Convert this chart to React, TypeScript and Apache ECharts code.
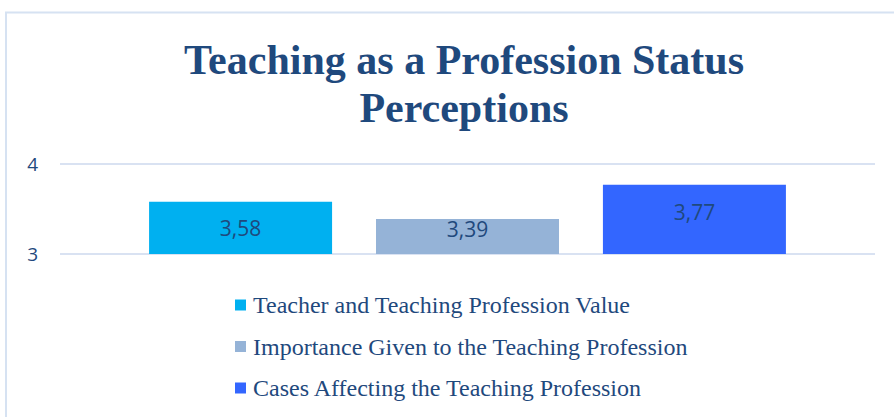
import React, { useEffect, useRef } from "react";
import * as echarts from "echarts";

const titleText = "Teaching as a Profession Status\nPerceptions";
const categories = [""];
const seriesNames = [
  "Teacher and Teaching Profession Value",
  "Importance Given to the Teaching Profession",
  "Cases Affecting the Teaching Profession",
];
const seriesValues = [3.58, 3.39, 3.77];
const seriesColors = ["#00B0F0", "#95B3D7", "#3366FF"];
const labelOffsets = [0, -7, -7];
const yMin = 3;
const yMax = 4;
const yInterval = 1;

const textBlue = "#1F497D";

export default function App() {
  const ref = useRef<HTMLDivElement>(null);
  useEffect(() => {
    document.body.style.margin = "0";
    if (!ref.current) return;
    const chart = echarts.init(ref.current, null, { renderer: "svg" });
    chart.setOption({
      animation: false,
      backgroundColor: "#ffffff",
      title: {
        text: titleText,
        left: 459,
        textAlign: "center",
        top: 31,
        textStyle: {
          fontFamily: "Liberation Serif",
          fontWeight: "bold",
          fontSize: 42,
          lineHeight: 48,
          color: textBlue,
        },
      },
      graphic: [
        {
          type: "rect",
          shape: { x: 6, y: 12.5, width: 920, height: 440 },
          style: { fill: "none", stroke: "#D6E2F2", lineWidth: 2 },
          silent: true,
          z: -1,
        },
      ],
      legend: {
        orient: "vertical",
        left: 235,
        top: 293,
        padding: 0,
        icon: "rect",
        itemWidth: 11,
        itemHeight: 11,
        itemGap: 17.5,
        textStyle: {
          fontFamily: "Liberation Serif",
          fontSize: 24,
          lineHeight: 24,
          color: textBlue,
          padding: [0, 0, 0, 2],
        },
        data: seriesNames,
      },
      grid: { left: 60, right: 19, top: 164, bottom: 163 },
      xAxis: {
        type: "category",
        data: categories,
        axisLine: { show: false },
        axisTick: { show: false },
        axisLabel: { show: false },
      },
      yAxis: {
        type: "value",
        min: yMin,
        max: yMax,
        interval: yInterval,
        axisLabel: {
          margin: 22,
          fontFamily: "Open Sans",
          fontSize: 19,
          color: textBlue,
        },
        splitLine: { lineStyle: { color: "#D9E2F2", width: 2 } },
        axisLine: { show: false },
        axisTick: { show: false },
      },
      series: seriesNames.map((name, i) => ({
        name,
        type: "bar",
        data: [seriesValues[i]],
        barWidth: 183,
        barGap: "24%",
        itemStyle: { color: seriesColors[i] },
        label: {
          show: true,
          position: "inside",
          offset: [0, labelOffsets[i]],
          fontFamily: "Open Sans",
          fontSize: 21,
          color: textBlue,
          formatter: (p: any) => String(p.value).replace(".", ","),
        },
      })),
    });
    return () => chart.dispose();
  }, []);
  return <div ref={ref} style={{ width: 894, height: 417 }} />;
}
